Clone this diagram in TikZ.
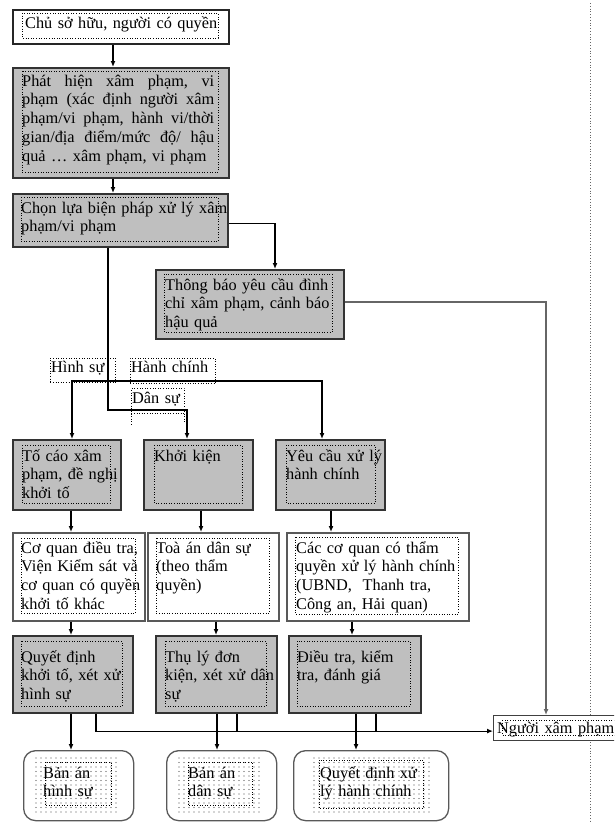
\documentclass[tikz,border=0pt]{standalone}
\usepackage{fontspec}
\setmainfont{Liberation Serif}
\usetikzlibrary{arrows.meta,calc}
\newcommand\jline[1]{\leavevmode\hbox to 192pt{#1}}
\begin{document}
\begin{tikzpicture}[x=1pt,y=-1pt,
  font=\fontsize{16.3}{18.8}\selectfont,
  gbox/.style={draw=black!80, line width=1.6pt, fill=black!25, inner sep=0pt, anchor=north west},
  wbox/.style={draw=black!65, line width=1.6pt, fill=white, inner sep=0pt, anchor=north west},
  rbox/.style={draw=black!65, line width=1.3pt, fill=white, rounded corners=12pt, inner sep=0pt, anchor=north west},
  lbox/.style={draw=black, dotted, line width=0.6pt, inner sep=0pt, anchor=north west},
  frame/.style={draw=black, dotted, line width=0.6pt},
  txt/.style={anchor=base west, inner sep=0pt, align=left, text width=250pt},
  conn/.style={line width=1.2pt, -{Latex[length=6pt,width=5pt]}},
  plain/.style={line width=1.2pt},
  dotc/.style={fill=black!70}
]
\useasboundingbox (0,0) rectangle (614,822);
\clip (0,0) rectangle (614,822);

% page margin line
\draw[black!60, dotted, line width=0.8pt] (590,3) -- (590,822);

% boxes
\node[wbox, draw=black!85, minimum width=216pt, minimum height=34pt] (b1) at (12,9) {};
\node[gbox, minimum width=216pt, minimum height=110pt] (b2) at (12,67) {};
\node[gbox, minimum width=215pt, minimum height=53pt] (b3) at (12,193) {};
\node[gbox, minimum width=188pt, minimum height=69pt] (b4) at (155,269) {};
\node[gbox, minimum width=108pt, minimum height=70pt] (r2a) at (12,439) {};
\node[gbox, minimum width=109pt, minimum height=70pt] (r2b) at (143,439) {};
\node[gbox, minimum width=109pt, minimum height=70pt] (r2c) at (275,439) {};
\node[wbox, minimum width=132pt, minimum height=88pt] (r3a) at (12,532) {};
\node[wbox, minimum width=131pt, minimum height=88pt] (r3b) at (147,532) {};
\node[wbox, minimum width=182pt, minimum height=88pt] (r3c) at (286,532) {};
\node[gbox, minimum width=120pt, minimum height=77pt] (r4a) at (12,635) {};
\node[gbox, minimum width=121pt, minimum height=77pt] (r4b) at (155,635) {};
\node[gbox, minimum width=132pt, minimum height=77pt] (r4c) at (288,635) {};
\node[rbox, minimum width=110pt, minimum height=70pt] (r5a) at (23,750) {};
\node[rbox, minimum width=110pt, minimum height=70pt] (r5b) at (166,750) {};
\node[rbox, minimum width=155pt, minimum height=70pt] (r5c) at (293,750) {};
\node[wbox, draw=black!75, line width=1.2pt, minimum width=130pt, minimum height=25pt] (nx) at (493,715) {};

% label frames
\node[lbox, minimum width=65pt, minimum height=24pt] (lh) at (50,358) {};
\node[lbox, minimum width=85pt, minimum height=25pt] (lc) at (130,358) {};
\node[lbox, minimum width=53pt, minimum height=25pt] (ld) at (131,388) {};
\draw[frame] (ld.south west) -- ++(0,12);
\draw[frame] (ld.south east) -- ++(0,9);

% dot grids in result boxes
\foreach \xx in {36,41,...,117} \foreach \yy in {758,762.5,...,812} \fill[dotc] (\xx,\yy) circle (0.6pt);
\foreach \xx in {179,184,...,260} \foreach \yy in {758,762.5,...,812} \fill[dotc] (\xx,\yy) circle (0.6pt);
\foreach \xx in {314,319,...,429} \foreach \yy in {758,762.5,...,812} \fill[dotc] (\xx,\yy) circle (0.6pt);

% inner dotted frames
\draw[frame] (22,13) rectangle (218,38);
\draw[frame] (22,71) rectangle (218,172);
\draw[frame] (21,197) rectangle (218,241);
\draw[frame] (164,274) rectangle (332,332);
\draw[frame] (22,445) rectangle (110,503);
\draw[frame] (154,445) rectangle (242,503);
\draw[frame] (286,445) rectangle (375,503);
\draw[frame] (21,538) rectangle (135,613);
\draw[frame] (156,538) rectangle (269,613);
\draw[frame] (295,537) rectangle (458,614);
\draw[frame] (21,641) rectangle (122,706);
\draw[frame] (165,641) rectangle (266,706);
\draw[frame] (297,641) rectangle (410,706);
\draw[frame] (45,762) rectangle (111,805);
\draw[frame] (188,762) rectangle (252,805);
\draw[frame] (319,760) rectangle (423,808);
\draw[frame] (502,720) rectangle (620,735);

% connectors
\coordinate (hl) at ([yshift=-3pt]nx.west);
\draw[conn] ([xshift=101pt]b1.south west) -- ([xshift=101pt]b1.south west |- b2.north);
\draw[conn] ([xshift=101pt]b2.south west) -- ([xshift=101pt]b2.south west |- b3.north);
\draw[conn] ([yshift=-3.5pt]b3.east) -| ([xshift=120pt]b4.north west);
\draw[conn, black!60, line width=1.5pt] ([yshift=2.5pt]b4.east) -| ([xshift=53pt]nx.north west);
\coordinate (hj) at (108,381);
\coordinate (dj) at (108,410);
\draw[conn] ([xshift=96pt]b3.south west) -- (dj) -| ([xshift=44pt]r2b.north west);
\draw[conn] (hj) -| ([xshift=60pt]r2a.north west);
\draw[conn] (hj) -| ([xshift=47pt]r2c.north west);
\draw[conn] ([xshift=59pt]r2a.south west) -- ([xshift=59pt]r2a.south west |- r3a.north);
\draw[conn] ([xshift=58pt]r2b.south west) -- ([xshift=58pt]r2b.south west |- r3b.north);
\draw[conn] ([xshift=56pt]r2c.south west) -- ([xshift=56pt]r2c.south west |- r3c.north);
\draw[conn] ([xshift=59pt]r3a.south west) -- ([xshift=59pt]r3a.south west |- r4a.north);
\draw[conn] ([xshift=69pt]r3b.south west) -- ([xshift=69pt]r3b.south west |- r4b.north);
\draw[conn] ([xshift=66pt]r3c.south west) -- ([xshift=66pt]r3c.south west |- r4c.north);
\draw[conn] ([xshift=59pt]r4a.south west) -- ([xshift=59pt]r4a.south west |- r5a.north);
\draw[conn] ([xshift=62pt]r4b.south west) -- ([xshift=62pt]r4b.south west |- r5b.north);
\draw[conn] ([xshift=68pt]r4c.south west) -- ([xshift=68pt]r4c.south west |- r5c.north);
\draw[conn] ([xshift=84pt]r4a.south west) |- (hl);
\draw[plain] ([xshift=82pt]r4b.south west) -- ([xshift=82pt]r4b.south west |- hl);
\draw[plain] ([xshift=88pt]r4c.south west) -- ([xshift=88pt]r4c.south west |- hl);

% texts
\node[txt] (t1) at (25,28.5) {Chủ sở hữu, người có quyền};
\node[txt, text width=192pt] (t2) at (22,86) {\jline{Phát\hfill hiện\hfill xâm\hfill phạm,\hfill vi}\\
\jline{phạm\hfill (xác\hfill định\hfill người\hfill xâm}\\
\jline{phạm/vi\hfill phạm,\hfill hành\hfill vi/thời}\\
\jline{gian/địa\hfill điểm/mức\hfill độ/\hfill hậu}\\
quả … xâm phạm, vi phạm};
\node[txt] (t3) at (21,213) {Chọn lựa biện pháp xử lý xâm\\phạm/vi phạm};
\node[txt] (t4) at (165,290) {Thông báo yêu cầu đình\\chỉ xâm phạm, cảnh báo\\hậu quả};
\node[txt] (th) at (51,372) {Hình sự};
\node[txt] (tc) at (131,372) {Hành chính};
\node[txt] (td) at (132,403) {Dân sự};
\node[txt] (t2a) at (22,461) {Tố cáo xâm\\phạm, đề nghị\\khởi tố};
\node[txt] (t2b) at (154,461) {Khởi kiện};
\node[txt] (t2c) at (286,461) {Yêu cầu xử lý\\hành chính};
\node[txt] (t3a) at (21,553) {Cơ quan điều tra,\\Viện Kiểm sát và\\cơ quan có quyền\\khởi tố khác};
\node[txt] (t3b) at (156,553) {Toà án dân sự\\(theo thẩm\\quyền)};
\node[txt] (t3c) at (296,553) {Các cơ quan có thẩm\\quyền xử lý hành chính\\(UBND,~ Thanh tra,\\Công an, Hải quan)};
\node[txt] (t4a) at (21,662) {Quyết định\\khởi tố, xét xử\\hình sự};
\node[txt] (t4b) at (165,662) {Thụ lý đơn\\kiện, xét xử dân\\sự};
\node[txt] (t4c) at (297,662) {Điều tra, kiểm\\tra, đánh giá};
\node[txt] (t5a) at (43,778) {Bản án\\hình sự};
\node[txt] (t5b) at (188,778) {Bản án\\dân sự};
\node[txt] (t5c) at (320,778) {Quyết định xử\\lý hành chính};
\node[txt] (tnx) at (497,733) {Người xâm phạm};
\end{tikzpicture}
\end{document}
